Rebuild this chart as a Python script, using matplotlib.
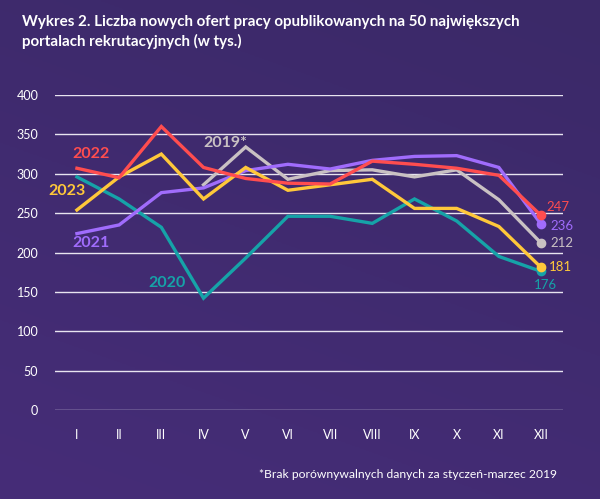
import matplotlib
matplotlib.use("Agg")
import matplotlib.pyplot as plt
import numpy as np

plt.rcParams['font.family'] = ['Lato', 'DejaVu Sans']

miesiace = ["I", "II", "III", "IV", "V", "VI", "VII", "VIII", "IX", "X", "XI", "XII"]

oferty_2019 = [None, None, None, 286, 334, 293, 304, 305, 296, 305, 267, 212]
oferty_2020 = [296, 268, 232, 142, 193, 246, 246, 237, 268, 240, 195, 176]
oferty_2021 = [224, 235, 276, 282, 304, 312, 306, 317, 322, 323, 308, 236]
oferty_2022 = [307, 295, 360, 308, 294, 288, 287, 316, 312, 307, 298, 247]
oferty_2023 = [254, 296, 325, 268, 308, 279, 286, 293, 256, 256, 233, 181]

serie = [
    ("2019*", oferty_2019, "#c9c1c3"),
    ("2020", oferty_2020, "#16a3a8"),
    ("2021", oferty_2021, "#a06cfc"),
    ("2023", oferty_2023, "#ffc83a"),
    ("2022", oferty_2022, "#ff4d4f"),
]

# pozycje etykiet z nazwami lat (x w indeksach miesiecy, y w tys.)
etykiety_lat = {
    "2022": (-0.12, 325),
    "2023": (-0.68, 278),
    "2021": (-0.1, 212),
    "2020": (1.7, 161),
    "2019*": (3.0, 339),
}
# pozycje wartosci na koncu (x, y)
etykiety_konca = {
    "2022": (11.12, 258, "left"),
    "2021": (11.22, 234, "left"),
    "2019*": (11.22, 212, "left"),
    "2023": (11.18, 181, "left"),
    "2020": (11.1, 159, "center"),
}

fig = plt.figure(figsize=(6.0, 4.99), dpi=100)

# tlo z lekkim gradientem
bg = fig.add_axes([0, 0, 1, 1])
gy, gx = np.mgrid[0:1:200j, 0:1:200j]
c_top = np.array([0x3b, 0x29, 0x68]) / 255
c_bot = np.array([0x46, 0x2d, 0x78]) / 255
t = (0.7 * gy + 0.3 * (1 - gx))[..., None]
img = c_top * (1 - t) + c_bot * t
bg.imshow(img, aspect="auto", extent=[0, 1, 0, 1], origin="upper")
bg.axis("off")

ax = fig.add_axes([55 / 600, 1 - 410 / 499, 508 / 600, 315 / 499])
ax.set_facecolor("none")
for s in ax.spines.values():
    s.set_visible(False)

x = np.arange(len(miesiace))
for nazwa, wartosci, kolor in serie:
    y = np.array([np.nan if v is None else v for v in wartosci], dtype=float)
    ax.plot(x, y, color=kolor, lw=2.4, solid_joinstyle="miter", zorder=3)
    ax.plot(x[-1], y[-1], "o", color=kolor, ms=6, zorder=4)
    lx, ly = etykiety_lat[nazwa]
    ax.text(lx, ly, nazwa, color=kolor, fontsize=11.5, fontweight="bold",
            ha="left", va="center", clip_on=False)
    ex, ey, ha = etykiety_konca[nazwa]
    ax.text(ex, ey, str(wartosci[-1]), color=kolor,
            fontsize=9.5, ha=ha, va="center", clip_on=False)

ax.set_xlim(-0.52, 11.52)
ax.set_ylim(0, 400)
ax.set_yticks(range(0, 401, 50))
ax.set_xticks(x)
ax.set_xticklabels(miesiace)
ax.yaxis.grid(True, color="#e8e4f0", lw=1.0)
ax.set_axisbelow(True)
ax.tick_params(axis="both", length=0, colors="white", labelsize=9)
ax.tick_params(axis="y", pad=12)
ax.tick_params(axis="x", pad=14)

fig.text(22 / 600, 1 - 32 / 499,
         "Wykres 2. Liczba nowych ofert pracy opublikowanych na 50 największych\nportalach rekrutacyjnych (w tys.)",
         color="white", fontsize=10.9, fontweight="bold", ha="left", va="center",
         linespacing=1.45)
fig.text(557 / 600, 1 - 474 / 499,
         "*Brak porównywalnych danych za styczeń-marzec 2019",
         color="white", fontsize=8.7, ha="right", va="center")

fig.savefig("out.png", dpi=100)
